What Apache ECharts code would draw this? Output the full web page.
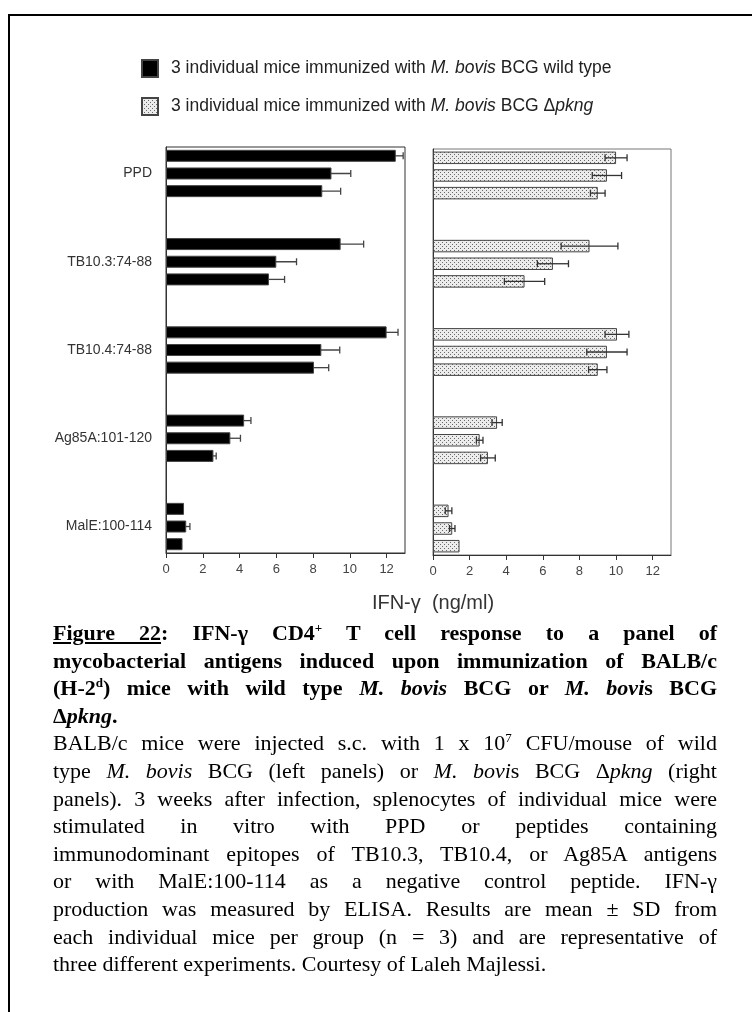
<!DOCTYPE html>
<html>
<head>
<meta charset="utf-8">
<script src="https://cdn.jsdelivr.net/npm/echarts@6/dist/echarts.min.js"></script>
<style>
  html, body { margin: 0; padding: 0; background: #fff; }
  body { width: 752px; height: 1012px; position: relative; overflow: hidden; }
  #frame { position: absolute; left: 8px; top: 14px; width: 800px; height: 1100px;
           border-left: 2px solid #000; border-top: 2px solid #000; box-sizing: border-box; }
  #chart { position: absolute; left: 0; top: 0; width: 752px; height: 620px; }
  #caption { position: absolute; left: 53px; top: 619px; width: 664px;
             font-family: "Liberation Serif", "Times New Roman", serif; font-size: 22px;
             line-height: 27.6px; color: #000; }
  #caption .ln { text-align: justify; text-align-last: justify; white-space: nowrap; }
  #caption .last { text-align: left; text-align-last: left; }
  #caption .b { font-weight: bold; }
  #caption sup { font-size: 13px; line-height: 0; vertical-align: 8px; }
</style>
</head>
<body>
<div id="frame"></div>
<div id="chart"></div>
<div id="caption">
  <div class="b">
    <div class="ln"><u>Figure 22</u>: IFN-γ CD4<sup>+</sup> T cell response to a panel of</div>
    <div class="ln">mycobacterial antigens induced upon immunization of BALB/c</div>
    <div class="ln">(H-2<sup>d</sup>) mice with wild type <i>M. bovis</i> BCG or <i>M. bovi</i>s BCG</div>
    <div class="ln last">Δ<i>pkng</i>.</div>
  </div>
  <div>
    <div class="ln">BALB/c mice were injected s.c. with 1 x 10<sup>7</sup> CFU/mouse of wild</div>
    <div class="ln">type <i>M. bovis</i> BCG (left panels) or <i>M. bovi</i>s BCG Δ<i>pkng</i> (right</div>
    <div class="ln">panels). 3 weeks after infection, splenocytes of individual mice were</div>
    <div class="ln">stimulated in vitro with PPD or peptides containing</div>
    <div class="ln">immunodominant epitopes of TB10.3, TB10.4, or Ag85A antigens</div>
    <div class="ln">or with MalE:100-114 as a negative control peptide. IFN-γ</div>
    <div class="ln">production was measured by ELISA. Results are mean ± SD from</div>
    <div class="ln">each individual mice per group (n = 3) and are representative of</div>
    <div class="ln last">three different experiments. Courtesy of Laleh Majlessi.</div>
  </div>
</div>
<script>
// ---- data ----
const groups = ['PPD', 'TB10.3:74-88', 'TB10.4:74-88', 'Ag85A:101-120', 'MalE:100-114'];
const miceNames = ['Mouse 1', 'Mouse 2', 'Mouse 3'];
const wtMean = [[12.5, 9.0, 8.5], [9.5, 6.0, 5.6], [12.0, 8.45, 8.05], [4.25, 3.5, 2.58], [0.98, 1.1, 0.9]];
const wtSD   = [[0.4, 1.05, 1.0], [1.25, 1.1, 0.85], [0.62, 1.0, 0.8], [0.37, 0.55, 0.15], [0, 0.2, 0]];
const koMean = [[10.0, 9.5, 9.0], [8.55, 6.55, 5.0], [10.05, 9.5, 9.0], [3.5, 2.55, 3.0], [0.85, 1.05, 1.45]];
const koSD   = [[0.6, 0.8, 0.4], [1.55, 0.85, 1.1], [0.65, 1.1, 0.5], [0.28, 0.18, 0.4], [0.18, 0.15, 0]];
const xTicks = [0, 2, 4, 6, 8, 10, 12];
const xMax = 13;
const nameWT = 'wt';
const nameKO = 'ko';

// ---- build slot layout (3 bars + 2 spacer slots per group) ----
const gapSlots = 2;
const slotLabels = [];
const slotIds = [];
const wtBars = [], koBars = [], wtErr = [], koErr = [];
groups.forEach((g, gi) => {
  miceNames.forEach((m, mi) => {
    const idx = slotLabels.length;
    slotLabels.push(mi === 1 ? g : '');
    slotIds.push('s' + idx);
    wtBars.push(wtMean[gi][mi]);
    koBars.push(koMean[gi][mi]);
    if (wtSD[gi][mi] > 0) wtErr.push([wtMean[gi][mi] - wtSD[gi][mi], wtMean[gi][mi] + wtSD[gi][mi], idx]);
    if (koSD[gi][mi] > 0) koErr.push([koMean[gi][mi] - koSD[gi][mi], koMean[gi][mi] + koSD[gi][mi], idx]);
  });
  if (gi < groups.length - 1) {
    for (let k = 0; k < gapSlots; k++) {
      const idx = slotLabels.length;
      slotLabels.push('');
      slotIds.push('s' + idx);
      wtBars.push(null);
      koBars.push(null);
    }
  }
});

// stipple pattern for the Δpkng bars
const pat = document.createElement('canvas');
pat.width = 4; pat.height = 4;
const pc = pat.getContext('2d');
pc.fillStyle = '#ececec'; pc.fillRect(0, 0, 4, 4);
pc.fillStyle = '#6a6a6a'; pc.fillRect(0, 0, 1, 1); pc.fillRect(2, 2, 1, 1);
const stipple = { image: pat, repeat: 'repeat' };

const FONT = '"Liberation Sans", Helvetica, Arial, sans-serif';

function errRender(color) {
  return function (params, api) {
    const lo = api.coord([api.value(0), api.value(2)]);
    const hi = api.coord([api.value(1), api.value(2)]);
    const h = 3.5;
    const st = { stroke: color, lineWidth: 1.3, fill: null };
    return {
      type: 'group',
      children: [
        { type: 'line', shape: { x1: lo[0], y1: lo[1], x2: hi[0], y2: hi[1] }, style: st },
        { type: 'line', shape: { x1: lo[0], y1: lo[1] - h, x2: lo[0], y2: lo[1] + h }, style: st },
        { type: 'line', shape: { x1: hi[0], y1: hi[1] - h, x2: hi[0], y2: hi[1] + h }, style: st }
      ]
    };
  };
}

function xAxisCfg(gridIndex) {
  return {
    type: 'value', gridIndex, min: 0, max: xMax,
    splitLine: { show: false },
    axisLine: { show: true, lineStyle: { color: '#333', width: 1 } },
    axisTick: { show: true, length: 5, inside: false, customValues: xTicks, lineStyle: { color: '#333' } },
    axisLabel: { customValues: xTicks, margin: 10, fontSize: 13, color: '#444', fontFamily: FONT }
  };
}
function yAxisCfg(gridIndex, showLabels) {
  return {
    type: 'category', gridIndex, data: slotIds, inverse: true,
    axisLine: { show: true, lineStyle: { color: '#333', width: 1 } },
    axisTick: { show: false },
    splitLine: { show: false },
    axisLabel: {
      show: showLabels, interval: 0, margin: 14, fontSize: 14, color: '#333', fontFamily: FONT,
      formatter: (v, i) => slotLabels[i]
    }
  };
}

const chart = echarts.init(document.getElementById('chart'), null, { renderer: 'canvas' });
chart.setOption({
  animation: false,
  backgroundColor: 'transparent',
  legend: {
    left: 141, top: 59, orient: 'vertical', padding: 0, itemGap: 19,
    itemWidth: 16, itemHeight: 17, icon: 'rect',
    data: [nameWT, nameKO],
    formatter: n => n === nameWT
      ? '3 individual mice immunized with {i|M. bovis} BCG wild type'
      : '3 individual mice immunized with {i|M. bovis} BCG Δ{i|pkng}',
    textStyle: {
      fontSize: 17.5, color: '#222', fontFamily: FONT, padding: [0, 0, 0, 8],
      rich: { i: { fontStyle: 'italic', fontSize: 17.5, color: '#222', fontFamily: FONT } }
    }
  },
  grid: [
    { left: 166, top: 147, width: 239, height: 406, show: true, borderColor: '#333', borderWidth: 1, outerBoundsMode: 'none' },
    { left: 433, top: 149, width: 238, height: 406, show: true, borderColor: '#777', borderWidth: 1, outerBoundsMode: 'none' }
  ],
  xAxis: [xAxisCfg(0), xAxisCfg(1)],
  yAxis: [yAxisCfg(0, true), yAxisCfg(1, false)],
  graphic: [
    { type: 'text', x: 433, y: 603, style: { text: 'IFN-γ  (ng/ml)', fontSize: 20, fill: '#333',
      fontFamily: FONT, align: 'center', verticalAlign: 'middle' } }
  ],
  series: [
    { name: nameWT, type: 'bar', xAxisIndex: 0, yAxisIndex: 0, data: wtBars, barWidth: 12, z: 3,
      itemStyle: { color: '#000', borderColor: '#444', borderWidth: 1 } },
    { name: 'wtErr', type: 'custom', xAxisIndex: 0, yAxisIndex: 0, data: wtErr, z: 2,
      encode: { x: [0, 1], y: 2 }, renderItem: errRender('#444') },
    { name: nameKO, type: 'bar', xAxisIndex: 1, yAxisIndex: 1, data: koBars, barWidth: 12.5, z: 2,
      itemStyle: { color: stipple, borderColor: '#444', borderWidth: 1 } },
    { name: 'koErr', type: 'custom', xAxisIndex: 1, yAxisIndex: 1, data: koErr, z: 3,
      encode: { x: [0, 1], y: 2 }, renderItem: errRender('#333') }
  ]
});
</script>
</body>
</html>
